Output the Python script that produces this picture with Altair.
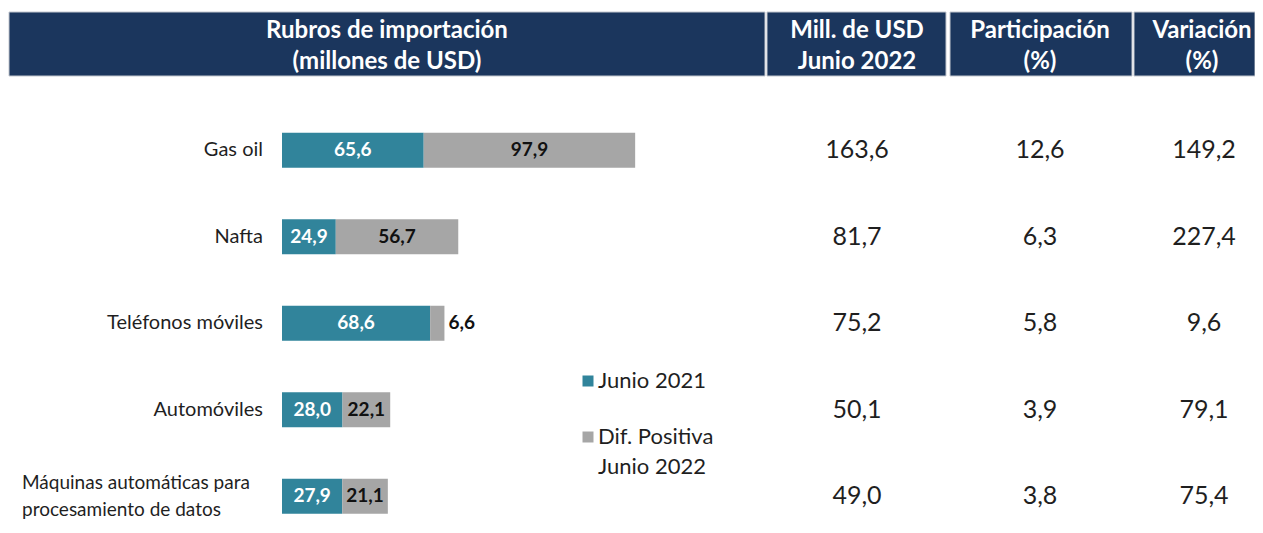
import altair as alt
import pandas as pd

# ---------------- data ----------------
categorias = [
    "Gas oil",
    "Nafta",
    "Teléfonos móviles",
    "Automóviles",
    "Máquinas automáticas para\nprocesamiento de datos",
]
junio_2021 = [65.6, 24.9, 68.6, 28.0, 27.9]
dif_positiva = [97.9, 56.7, 6.6, 22.1, 21.1]
mill_usd_2022 = [163.6, 81.7, 75.2, 50.1, 49.0]
participacion = [12.6, 6.3, 5.8, 3.9, 3.8]
variacion = [149.2, 227.4, 9.6, 79.1, 75.4]
series = ["Junio 2021", "Dif. Positiva Junio 2022"]
colores = ["#31849b", "#a6a6a6"]
encabezados = [
    "Rubros de importación\n(millones de USD)",
    "Mill. de USD\nJunio 2022",
    "Participación\n(%)",
    "Variación\n(%)",
]
leyenda = ["Junio 2021", "Dif. Positiva\nJunio 2022"]

# ---------------- tables ----------------
rows = []
for i, c in enumerate(categorias):
    a, b = junio_2021[i], dif_positiva[i]
    rows.append(dict(categoria=c, serie=series[0], valor=a, inicio=0.0, fin=a, orden=0))
    rows.append(dict(categoria=c, serie=series[1], valor=b, inicio=a, fin=a + b, orden=1))
bars_df = pd.DataFrame(rows)

tabla_df = pd.DataFrame(dict(
    categoria=categorias,
    mill=mill_usd_2022,
    part=participacion,
    var=variacion,
    multilinea=[("\n" in c) for c in categorias],
))

FONT = "Lato"
NAVY = "#1b365d"
TXT = "#1f1f1f"

yscale = alt.Scale(domain=categorias, range=[99, 531.5], paddingInner=0, paddingOuter=0)
xscale = alt.Scale(domain=[0, 100], range=[274, 490], nice=False, zero=False)
cscale = alt.Scale(domain=series, range=colores)

Y = alt.Y("categoria:N", scale=yscale, sort=categorias,
          axis=alt.Axis(labels=False, title=None, offset=-274, bandPosition=0,
                        tickSize=6, tickColor="#8a8a8a", tickWidth=2,
                        domainColor="#8a8a8a", domainWidth=2, grid=False))
Yn = alt.Y("categoria:N", scale=yscale, sort=categorias, axis=None)

fmt = "replace(format(datum.{f}, '.1f'), '.', ',')"

# bars
bars = alt.Chart(bars_df).mark_bar(size=35).encode(
    y=Y,
    x=alt.X("inicio:Q", scale=xscale, axis=None),
    x2="fin:Q",
    color=alt.Color("serie:N", scale=cscale, legend=None),
)

lab_in = alt.Chart(bars_df).transform_filter("datum.valor >= 10").transform_calculate(
    lbl=fmt.format(f="valor"), mid="(datum.inicio + datum.fin) / 2"
).mark_text(font=FONT, fontSize=19, fontWeight="bold", baseline="middle", align="center").encode(
    y=Yn,
    x=alt.X("mid:Q", scale=xscale, axis=None),
    text="lbl:N",
    color=alt.condition("datum.orden == 0", alt.value("white"), alt.value("#111111")),
)

lab_out = alt.Chart(bars_df).transform_filter("datum.valor < 10").transform_calculate(
    lbl=fmt.format(f="valor")
).mark_text(font=FONT, fontSize=19, fontWeight="bold", baseline="middle", align="left", dx=4,
            color="#111111").encode(
    y=Yn,
    x=alt.X("fin:Q", scale=xscale, axis=None),
    text="lbl:N",
)

# category labels
cat_right = alt.Chart(tabla_df).transform_filter("!datum.multilinea").mark_text(
    font=FONT, fontSize=20, align="right", baseline="middle", color=TXT
).encode(y=Yn, x=alt.value(255), text="categoria:N")

cat_left = alt.Chart(tabla_df).transform_filter("datum.multilinea").mark_text(
    font=FONT, fontSize=19, align="left", baseline="middle", color=TXT,
    lineBreak="\n", lineHeight=27, dy=-13.5
).encode(y=Yn, x=alt.value(14), text="categoria:N")

# table columns
def col(field, xpos):
    return alt.Chart(tabla_df).transform_calculate(lbl=fmt.format(f=field)).mark_text(
        font=FONT, fontSize=25, align="center", baseline="middle", color=TXT
    ).encode(y=Yn, x=alt.value(xpos), text="lbl:N")

col1 = col("mill", 849)
col2 = col("part", 1032)
col3 = col("var", 1196)

# header boxes
one = pd.DataFrame({"k": [0]})
boxes_x = [(1, 757), (759, 938), (942, 1124), (1126, 1247)]
text_x = [379, 849, 1032, 1194]
header_layers = []
for (x0, x1), tx, t in zip(boxes_x, text_x, encabezados):
    header_layers.append(
        alt.Chart(one).mark_rect(color=NAVY, stroke="#c3c7cf", strokeWidth=1).encode(
            x=alt.value(x0), x2=alt.value(x1), y=alt.value(4), y2=alt.value(68)
        )
    )
    header_layers.append(
        alt.Chart(one).mark_text(font=FONT, fontSize=24, fontWeight="bold", color="white",
                                 align="center", baseline="middle", lineBreak="\n",
                                 lineHeight=31).encode(
            x=alt.value(tx), y=alt.value(23), text=alt.value(t)
        )
    )

# legend (manual)
legend_layers = []
for s, lab, ypos in zip(series, leyenda, [373, 429]):
    d = pd.DataFrame({"serie": [s]})
    legend_layers.append(
        alt.Chart(d).mark_square(size=121, opacity=1).encode(
            x=alt.value(580), y=alt.value(ypos),
            color=alt.Color("serie:N", scale=cscale, legend=None),
        )
    )
    legend_layers.append(
        alt.Chart(one).mark_text(font=FONT, fontSize=22, align="left", baseline="middle",
                                 color=TXT, lineBreak="\n", lineHeight=30).encode(
            x=alt.value(590), y=alt.value(ypos), text=alt.value(lab)
        )
    )

chart = alt.layer(
    *header_layers, bars, lab_in, lab_out, cat_right, cat_left, col1, col2, col3, *legend_layers
).properties(
    width=1247, height=517, padding=0, autosize=alt.AutoSizeParams(type="none")
).configure_view(stroke=None)

chart.save("out.html", embed_options={"renderer": "svg", "actions": False})
